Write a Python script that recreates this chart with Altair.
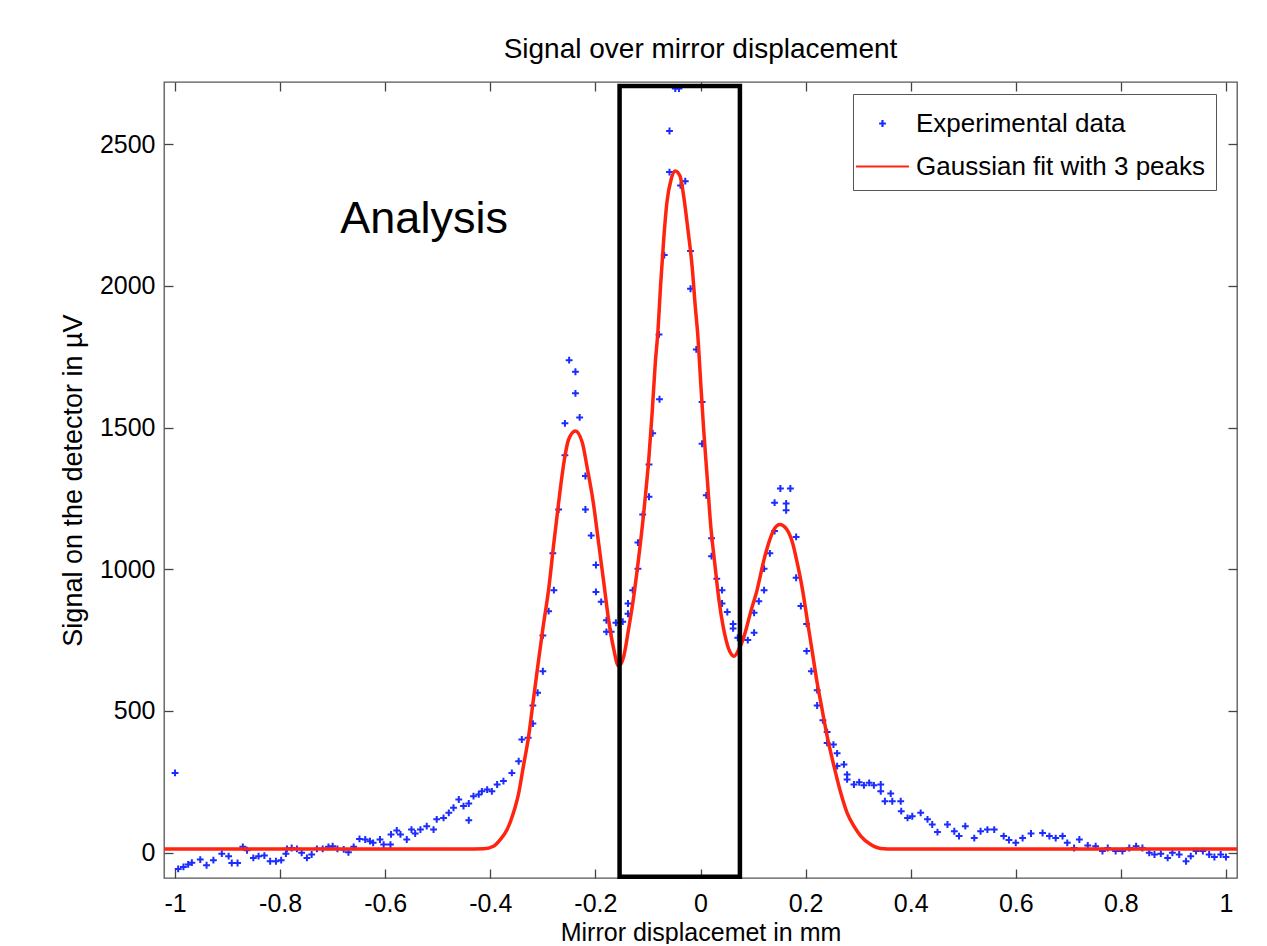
import altair as alt
import pandas as pd

# ---------------- data ----------------
exp_x = [
    -1.000, -0.994, -0.984, -0.975, -0.968, -0.952, -0.940, -0.927, -0.911, -0.898,
    -0.892, -0.881, -0.871, -0.863, -0.851, -0.841, -0.830, -0.819, -0.808, -0.798,
    -0.789, -0.787, -0.778, -0.768, -0.759, -0.749, -0.740, -0.730, -0.719, -0.708,
    -0.700, -0.691, -0.679, -0.670, -0.660, -0.649, -0.638, -0.629, -0.623, -0.610,
    -0.603, -0.590, -0.589, -0.578, -0.571, -0.559, -0.550, -0.543, -0.533, -0.521,
    -0.508, -0.502, -0.489, -0.479, -0.470, -0.460, -0.451, -0.441, -0.441, -0.432,
    -0.422, -0.416, -0.406, -0.397, -0.387, -0.375, -0.359, -0.346, -0.340, -0.328,
    -0.319, -0.319, -0.310, -0.300, -0.300, -0.289, -0.281, -0.279, -0.270, -0.258,
    -0.258, -0.250, -0.238, -0.238, -0.230, -0.219, -0.219, -0.208, -0.199, -0.199,
    -0.189, -0.179, -0.179, -0.170, -0.161, -0.148, -0.138, -0.138, -0.129, -0.119,
    -0.119, -0.110, -0.098, -0.098, -0.091, -0.079, -0.078, -0.069, -0.059, -0.059,
    -0.048, -0.041, -0.038, -0.029, -0.019, -0.019, -0.008, 0.003, 0.003, 0.011,
    0.021, 0.021, 0.031, 0.041, 0.041, 0.051, 0.062, 0.062, 0.071, 0.079,
    0.090, 0.102, 0.102, 0.111, 0.121, 0.121, 0.132, 0.141, 0.141, 0.152,
    0.163, 0.163, 0.171, 0.182, 0.182, 0.191, 0.202, 0.202, 0.211, 0.222,
    0.222, 0.233, 0.241, 0.241, 0.253, 0.260, 0.260, 0.273, 0.279, 0.279,
    0.292, 0.302, 0.311, 0.321, 0.330, 0.343, 0.343, 0.351, 0.362, 0.365,
    0.381, 0.382, 0.394, 0.403, 0.419, 0.432, 0.441, 0.451, 0.470, 0.483,
    0.492, 0.504, 0.521, 0.533, 0.546, 0.559, 0.577, 0.587, 0.600, 0.613,
    0.629, 0.651, 0.664, 0.676, 0.689, 0.698, 0.711, 0.721, 0.737, 0.752,
    0.765, 0.775, 0.790, 0.803, 0.816, 0.829, 0.841, 0.854, 0.864, 0.876,
    0.889, 0.898, 0.911, 0.924, 0.933, 0.943, 0.956, 0.968, 0.978, 0.990, 1.000,
]
exp_y = [
    281, -58, -51, -42, -36, -25, -45, -27, -4, -13,
    -37, -37, 20, 8, -19, -13, -11, -31, -31, -27,
    -4, 13, 16, 13, -1, -19, -7, 13, 13, 20,
    22, 13, 11, 1, 20, 48, 46, 40, 34, 46,
    28, 28, 64, 78, 64, 46, 81, 67, 81, 93,
    81, 117, 122, 140, 158, 187, 164, 114, 173, 199,
    205, 216, 222, 216, 240, 252, 281, 322, 399, 405,
    455, 519, 564, 640, 766, 852, 1056, 926, 1211, 1402,
    1515, 1738, 1697, 1621, 1536, 1329, 1211, 1119, 1015, 920,
    885, 820, 779, 779, 811, 815, 879, 843, 926, 1002,
    1094, 1193, 1256, 1370, 1480, 1829, 1600, 2109, 2402, 2547,
    2697, 2697, 2355, 2370, 2123, 1990, 1776, 1590, 1443, 1261,
    1109, 1046, 966, 926, 879, 849, 807, 791, 758, 752,
    750, 776, 846, 887, 926, 1002, 1056, 1135, 1235, 1285,
    1232, 1208, 1285, 1114, 970, 870, 807, 711, 640, 573,
    519, 467, 425, 387, 381, 350, 305, 311, 275, 258,
    240, 248, 237, 246, 237, 240, 216, 181, 208, 181,
    181, 146, 122, 128, 140, 117, 99, 72, 99, 75,
    58, 93, 51, 75, 81, 81, 58, 44, 34, 51,
    67, 69, 58, 51, 58, 34, 16, 46, 25, 22,
    5, 16, 5, 5, 16, 22, 16, -1, -7, -4,
    -19, -1, -7, -31, -13, 5, 5, -7, -16, -7, -16,
]

fit_x = [
    -1.021, -0.450, -0.413, -0.394, -0.381, -0.368, -0.356, -0.346, -0.337, -0.327,
    -0.318, -0.308, -0.300, -0.289, -0.279, -0.270, -0.260, -0.251, -0.238, -0.225,
    -0.215, -0.204, -0.194, -0.184, -0.175, -0.165, -0.156, -0.146, -0.137, -0.127,
    -0.118, -0.108, -0.098, -0.092, -0.086, -0.081, -0.076, -0.070, -0.064, -0.056,
    -0.048, -0.039, -0.032, -0.024, -0.016, -0.010, -0.005, 0.000, 0.006, 0.013,
    0.019, 0.027, 0.035, 0.043, 0.054, 0.064, 0.073, 0.083, 0.095, 0.108,
    0.121, 0.130, 0.140, 0.151, 0.164, 0.175, 0.184, 0.194, 0.203, 0.213,
    0.222, 0.229, 0.241, 0.254, 0.267, 0.279, 0.292, 0.305, 0.324, 0.343,
    0.368, 1.021,
]
fit_y = [
    12, 12, 13, 22, 46, 81, 140, 210, 305, 411,
    540, 681, 790, 929, 1094, 1235, 1376, 1458, 1488, 1447,
    1352, 1235, 1094, 952, 823, 717, 658, 693, 787, 905,
    1035, 1200, 1399, 1553, 1729, 1840, 2000, 2165, 2294, 2376,
    2406, 2388, 2317, 2200, 2070, 1929, 1823, 1670, 1494, 1317,
    1164, 1023, 893, 799, 717, 693, 717, 764, 846, 929,
    1035, 1094, 1141, 1158, 1141, 1094, 1023, 929, 823, 705,
    599, 529, 411, 305, 210, 140, 93, 58, 28, 14,
    12, 12,
]

series_names = ["Experimental data", "Gaussian fit with 3 peaks"]
series_colors = ["#1a2cff", "#ff2410"]
series_shapes = ["M-0.19,0L0.19,0M0,-0.19L0,0.19", "M-1.47,0L1.47,0"]

x_ticks = [-1, -0.8, -0.6, -0.4, -0.2, 0, 0.2, 0.4, 0.6, 0.8, 1]
y_ticks = [0, 500, 1000, 1500, 2000, 2500]
x_domain = [-1.021, 1.021]
y_domain = [-90, 2720]

box_x = [-0.154, 0.075]
box_y = [-86, 2706]
note_text = ["Analysis"]
note_x = [-0.526]
note_y = [2236]

title_text = "Signal over mirror displacement"
x_title = "Mirror displacemet in mm"
y_title = "Signal on the detector in µV"

# ---------------- chart ----------------
W, H = 1073, 796
FONT = "Liberation Sans"

df_exp = pd.DataFrame({"x": exp_x, "y": exp_y, "series": series_names[0]})
df_fit = pd.DataFrame({"x": fit_x, "y": fit_y, "series": series_names[1]})
df_box = pd.DataFrame({"x1": [box_x[0]], "x2": [box_x[1]], "y1": [box_y[0]], "y2": [box_y[1]]})
df_note = pd.DataFrame({"x": note_x, "y": note_y, "text": note_text})

xs = alt.Scale(domain=x_domain, nice=False, zero=False)
ys = alt.Scale(domain=y_domain, nice=False, zero=False)

legend = alt.Legend(
    title=None, orient="none", legendX=689, legendY=12, padding=10,
    fillColor="white", strokeColor="#555555",
    labelFont=FONT, labelFontSize=26, labelColor="black", labelOffset=14,
    labelLimit=600, symbolSize=1296, symbolStrokeWidth=2.2, rowPadding=10,
)
color = alt.Color("series:N", scale=alt.Scale(domain=series_names, range=series_colors), legend=legend)
shape = alt.Shape("series:N", scale=alt.Scale(domain=series_names, range=series_shapes), legend=legend)

lab = "datum.value + ''"


def tick_axis(orient, values, offset):
    return alt.Axis(orient=orient, offset=offset, values=values, labels=False, ticks=True,
                    tickSize=9, domain=False, grid=False, title=None)


points = alt.Chart(df_exp).mark_point(filled=False, size=1296, strokeWidth=2, opacity=1).encode(
    x=alt.X("x:Q", scale=xs, axis=alt.Axis(
        orient="bottom", values=x_ticks, labelExpr=lab, ticks=False, tickSize=0, domain=False,
        grid=False, labelPadding=13, labelFontSize=25, labelFlush=False, labelOverlap=False,
        title=x_title, titleFontSize=25, titlePadding=4, titleFontWeight="normal")),
    y=alt.Y("y:Q", scale=ys, axis=alt.Axis(
        orient="left", values=y_ticks, labelExpr=lab, ticks=False, tickSize=0, domain=False,
        grid=False, labelPadding=9, labelFontSize=25, labelOverlap=False,
        title=y_title, titleFontSize=27, titlePadding=12, titleFontWeight="normal")),
    color=color,
    shape=shape,
)

line = alt.Chart(df_fit).mark_line(strokeWidth=3.5, interpolate="monotone").encode(
    x=alt.X("x:Q", scale=xs, axis=tick_axis("top", x_ticks, -H)),
    y=alt.Y("y:Q", scale=ys, axis=tick_axis("right", y_ticks, -W)),
    color=color,
)

box = alt.Chart(df_box).mark_rect(fillOpacity=0, stroke="black", strokeWidth=4.5).encode(
    x=alt.X("x1:Q", scale=xs, axis=tick_axis("bottom", x_ticks, -H)),
    x2="x2:Q",
    y=alt.Y("y1:Q", scale=ys, axis=tick_axis("left", y_ticks, -W)),
    y2="y2:Q",
)

note = alt.Chart(df_note).mark_text(fontSize=45, font=FONT, color="black", align="center",
                                    baseline="middle").encode(
    x=alt.X("x:Q", scale=xs, axis=None),
    y=alt.Y("y:Q", scale=ys, axis=None),
    text="text:N",
)

chart = (
    alt.layer(points, line, box, note)
    .resolve_axis(x="independent", y="independent")
    .resolve_scale(x="shared", y="shared")
    .properties(
        width=W, height=H,
        padding={"left": 156, "top": 74, "right": 20, "bottom": 66},
        autosize=alt.AutoSizeParams(type="none"),
        title=alt.Title(title_text, fontSize=28, font=FONT, fontWeight="normal", color="black",
                        anchor="middle", offset=-5, baseline="alphabetic"),
    )
    .configure_view(stroke="#555555", strokeWidth=1.3)
    .configure_axis(labelFont=FONT, titleFont=FONT, labelColor="black", titleColor="black",
                    tickColor="#444444", tickWidth=1.3)
)

chart.save("out.html", embed_options={"renderer": "svg", "actions": False})
